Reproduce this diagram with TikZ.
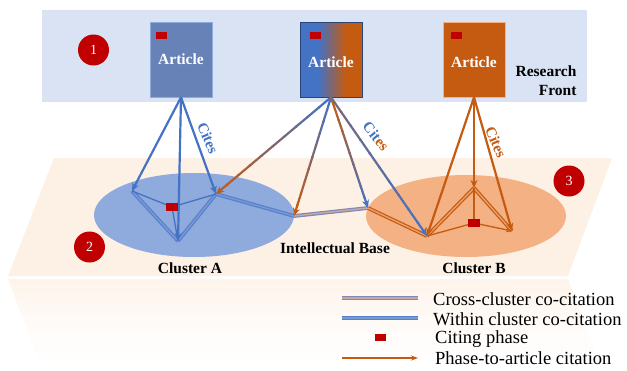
\documentclass[tikz,border=0pt]{standalone}
\usepackage{fontspec}
\setmainfont{Liberation Serif}
\usetikzlibrary{arrows.meta,calc,shapes.geometric}
\definecolor{cblue}{HTML}{4472C4}
\definecolor{corange}{HTML}{C55A11}
\definecolor{panelblue}{HTML}{DAE3F3}
\definecolor{planeor}{HTML}{FDF0E4}
\definecolor{ellA}{HTML}{8FAADC}
\definecolor{ellB}{HTML}{F4B183}
\definecolor{dred}{HTML}{C00000}
\definecolor{artA}{HTML}{6682B6}
\definecolor{crossout}{HTML}{8088B8}
\definecolor{crossin}{HTML}{C8A8A0}
\pgfdeclarehorizontalshading{artmid}{100bp}{color(0bp)=(cblue); color(25bp)=(cblue); color(40bp)=(cblue); color(62bp)=(corange); color(100bp)=(corange)}
\newcommand{\gradarrow}[4]{%
  \foreach \k in {0,...,9}{%
    \pgfmathsetmacro\ta{\k/10}%
    \pgfmathsetmacro\tb{(\k+1)/10+0.01}%
    \pgfmathtruncatemacro\pc{\k*100/9}%
    \ifnum\k=9
      \draw[gline,-{Stealth[length=8pt,width=7pt]},draw={#4!\pc!#3}] ($(#1)!\ta!(#2)$) -- (#2);
    \else
      \draw[gline,draw={#4!\pc!#3}] ($(#1)!\ta!(#2)$) -- ($(#1)!\tb!(#2)$);
    \fi
  }}
\begin{document}
\begin{tikzpicture}[x=1pt,y=-1pt,
  lbl/.style={font=\bfseries\fontsize{15.5}{19}\selectfont},
  legtext/.style={font=\fontsize{18.5}{20}\selectfont, anchor=west, inner sep=0pt},
  numc/.style={circle, fill=dred, minimum size=31pt, inner sep=0pt, text=white, font=\fontsize{14}{14}\selectfont},
  artbox/.style={rectangle, minimum width=62pt, minimum height=75pt, inner sep=0pt, text=white, font=\bfseries\fontsize{15.5}{19}\selectfont},
  redsq/.style={rectangle, fill=dred, minimum width=11pt, minimum height=7pt, inner sep=0pt},
  citeA/.style={draw=cblue, line width=2.2pt, -{Stealth[length=8pt,width=7pt]}},
  citeB/.style={draw=corange, line width=2.2pt, -{Stealth[length=8pt,width=7pt]}},
  gline/.style={line width=2.2pt},
  withinA/.style={draw=cblue!90, double=ellA!70!cblue, double distance=1.4pt, line width=1.2pt},
  withinB/.style={draw=corange, double=ellB!80!corange, double distance=1.4pt, line width=1.2pt},
  crossl/.style={draw=crossout, double=crossin, double distance=1.4pt, line width=1.2pt},
  phaseA/.style={draw=cblue, line width=1.3pt},
  phaseB/.style={draw=corange, line width=1.3pt},
  citestxt/.style={font=\bfseries\fontsize{15}{15}\selectfont, inner sep=0pt}
]
\useasboundingbox (0,0) rectangle (627,370);

% research front panel
\fill[panelblue] (42,10) rectangle (587,102);

% plane and its reflection
\shade[top color=planeor!75!white, bottom color=white, middle color=planeor!30!white] (8,279) -- (568,279) -- (600,365) -- (40,365) -- cycle;
\fill[planeor] (54,158) -- (612,158) -- (568,276) -- (8,276) -- cycle;

% clusters
\node[ellipse, fill=ellA, minimum width=200pt, minimum height=84pt, inner sep=0pt] (clA) at (194,215) {};
\node[ellipse, fill=ellB, minimum width=200pt, minimum height=82pt, inner sep=0pt] (clB) at (466,216) {};

% articles
\node[artbox, fill=artA, draw=ellA, line width=0.6pt] (artL) at (181,59.5) {Article};
\node[artbox, shading=artmid, draw=cblue!60!black, line width=0.6pt] (artM) at (331,59.5) {};
\node[artbox] (artMt) at (331,62) {Article};
\node[artbox, fill=corange, draw=ellB, line width=0.6pt] (artR) at (474,59.5) {};
\node[artbox] (artRt) at (474,62) {Article};
\node[redsq] (sqL) at (161.5,35.5) {};
\node[redsq] (sqM) at (315.5,35.5) {};
\node[redsq] (sqR) at (456,35.5) {};

\node[lbl, align=right, anchor=east] (rf) at (580,80.5) {Research\\Front};

% numbered circles
\node[numc] (n1) at (93.5,50) {1};
\node[numc] (n2) at (89.5,247) {2};
\node[numc] (n3) at (569,181) {3};

% labels
\node[lbl] (labA) at (190,268) {Cluster A};
\node[lbl] (labB) at (474,268) {Cluster B};
\node[lbl] (labI) at (335,248) {Intellectual Base};

% points
\coordinate (A1) at (132,191);
\coordinate (A2) at (216,194);
\coordinate (A3) at (178,241);
\coordinate (A4) at (294,216);
\node[redsq] (Asq) at (172,207) {};
\coordinate (B1) at (368,208);
\coordinate (B2) at (427,236);
\coordinate (B3) at (474,188);
\coordinate (B4) at (512,231);
\node[redsq] (Bsq) at (474,223) {};

% within cluster A
\draw[withinA] (A1) -- (A3);
\draw[withinA] (A3) -- (A2);
\draw[withinA] (A2) -- (A4);
\draw[phaseA] (Asq) -- (A1);
\draw[phaseA] (Asq) -- (A2);
\draw[phaseA] (Asq) -- (A3);

% within cluster B
\draw[withinB] (B1) -- (B2);
\draw[withinB] (B2) -- (B3);
\draw[withinB] (B3) -- (B4);
\draw[phaseB] (B3) -- (Bsq);
\draw[phaseB] (Bsq) -- (B2);
\draw[phaseB,-{Stealth[length=6pt,width=5pt]}] (Bsq) -- (B4);

% cross cluster
\draw[crossl] (A4) -- (B1);

% cites from left article
\draw[citeA] (artL.south) -- (A1);
\draw[citeA] (artL.south) -- (A3);
\draw[citeA] (artL.south) -- (A2);

% cites from right article
\draw[citeB] (artR.south) -- (B2);
\draw[citeB] (artR.south) -- (B3);
\draw[citeB] (artR.south) -- (B4);

% cites from mixed article
\gradarrow{artM.south}{A2}{cblue}{corange}
\gradarrow{artM.south}{A4}{cblue}{corange}
\gradarrow{artM.south}{B1}{corange}{cblue}
\gradarrow{artM.south}{B2}{corange!40!cblue}{cblue}

% citing phases on top
\fill[dred] (Asq.south west) rectangle (Asq.north east);
\fill[dred] (Bsq.south west) rectangle (Bsq.north east);

% cites labels
\node[citestxt, text=cblue, rotate=-67] (citL) at (208,138) {Cites};
\node[citestxt, rotate=-51] (citM) at (376,136) {{\color{cblue}Cit}{\color{corange}es}};
\node[citestxt, text=corange, rotate=-67] (citR) at (496,142) {Cites};

% legend
\coordinate (l1a) at (342,298); \coordinate (l1b) at (418,298);
\coordinate (l2a) at (342,318); \coordinate (l2b) at (418,318);
\coordinate (l4a) at (342,358); \coordinate (l4b) at (418,358);
\draw[crossl] (l1a) -- (l1b);
\draw[withinA] (l2a) -- (l2b);
\node[redsq] (lsq) at (380,337) {};
\draw[phaseB,-{Stealth[length=7pt,width=5pt]}] (l4a) -- (l4b);
\node[legtext] (t1) at (433,299) {Cross-cluster co-citation};
\node[legtext] (t2) at (433,319) {Within cluster co-citation};
\node[legtext] (t3) at (435,339) {Citing phase};
\node[legtext] (t4) at (435,358) {Phase-to-article citation};
\end{tikzpicture}
\end{document}
